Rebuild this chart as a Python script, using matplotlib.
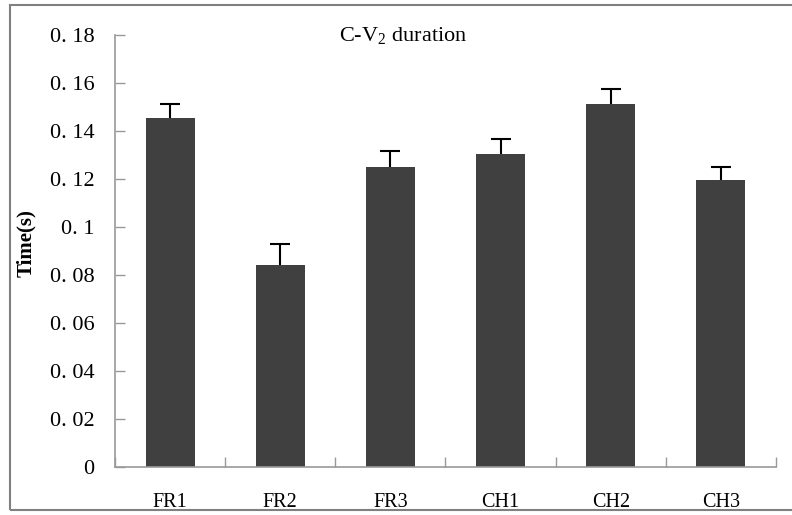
import matplotlib
matplotlib.use("Agg")
import matplotlib.pyplot as plt
from matplotlib.patches import Rectangle
import numpy as np

categories = ["FR1", "FR2", "FR3", "CH1", "CH2", "CH3"]
values = [0.1454, 0.0842, 0.1250, 0.1304, 0.1512, 0.1196]
errors = [0.0060, 0.0086, 0.0068, 0.0061, 0.0063, 0.0055]
yticks = [0, 0.02, 0.04, 0.06, 0.08, 0.10, 0.12, 0.14, 0.16, 0.18]
ytick_labels = ["0", "0. 02", "0. 04", "0. 06", "0. 08", "0. 1", "0. 12", "0. 14", "0. 16", "0. 18"]

plt.rcParams['font.family'] = ['Liberation Serif', 'DejaVu Serif']
plt.rcParams['mathtext.fontset'] = 'custom'
plt.rcParams['mathtext.rm'] = 'Liberation Serif'

fig = plt.figure(figsize=(7.92, 5.15), dpi=100)
ax = fig.add_axes([115/792, (515-467)/515, (776-115)/792, (467-35)/515])

# outer frame
fig.patches.append(Rectangle((10/792, 5/515), 1.0, (510-5)/515, transform=fig.transFigure,
                             fill=False, edgecolor='#808080', linewidth=1.5, zorder=0))

x = np.arange(len(categories))
ax.bar(x, values, width=0.445, color='#404040', zorder=2)
eb = ax.errorbar(x, values, yerr=[np.zeros(len(errors)), errors], fmt='none',
                 ecolor='black', elinewidth=1.5, capsize=7, capthick=1.5, zorder=3)
eb[1][0].set_visible(False)

ax.set_xlim(-0.5, len(categories) - 0.5)
ax.set_ylim(0, 0.18)
ax.set_yticks(yticks)
ax.set_yticklabels(ytick_labels, fontsize=16)
ax.set_xticks(np.arange(len(categories) + 1) - 0.5)
ax.set_xticklabels([])
ax.set_xticks(x, minor=True)
ax.set_xticklabels(categories, minor=True, fontsize=14.5)
ax.tick_params(axis='x', which='major', direction='in', length=7, color='#999999', width=1)
ax.tick_params(axis='x', which='minor', length=0, pad=19)
ax.tick_params(axis='y', direction='in', length=7, color='#999999', width=1, pad=15)

for s in ['top', 'right']:
    ax.spines[s].set_visible(False)
for s in ['left', 'bottom']:
    ax.spines[s].set_color('#999999')
    ax.spines[s].set_linewidth(1.2)

fig.text(26/792, 1 - 243/515, "Time(s)", rotation=90, ha='center', va='center',
         fontsize=15, fontweight='bold')
fig.text(403/792, 1 - 36/515, r"C-V$_{\mathregular{2}}$ duration", ha='center', va='center', fontsize=16)

fig.savefig("out.png", dpi=100)
